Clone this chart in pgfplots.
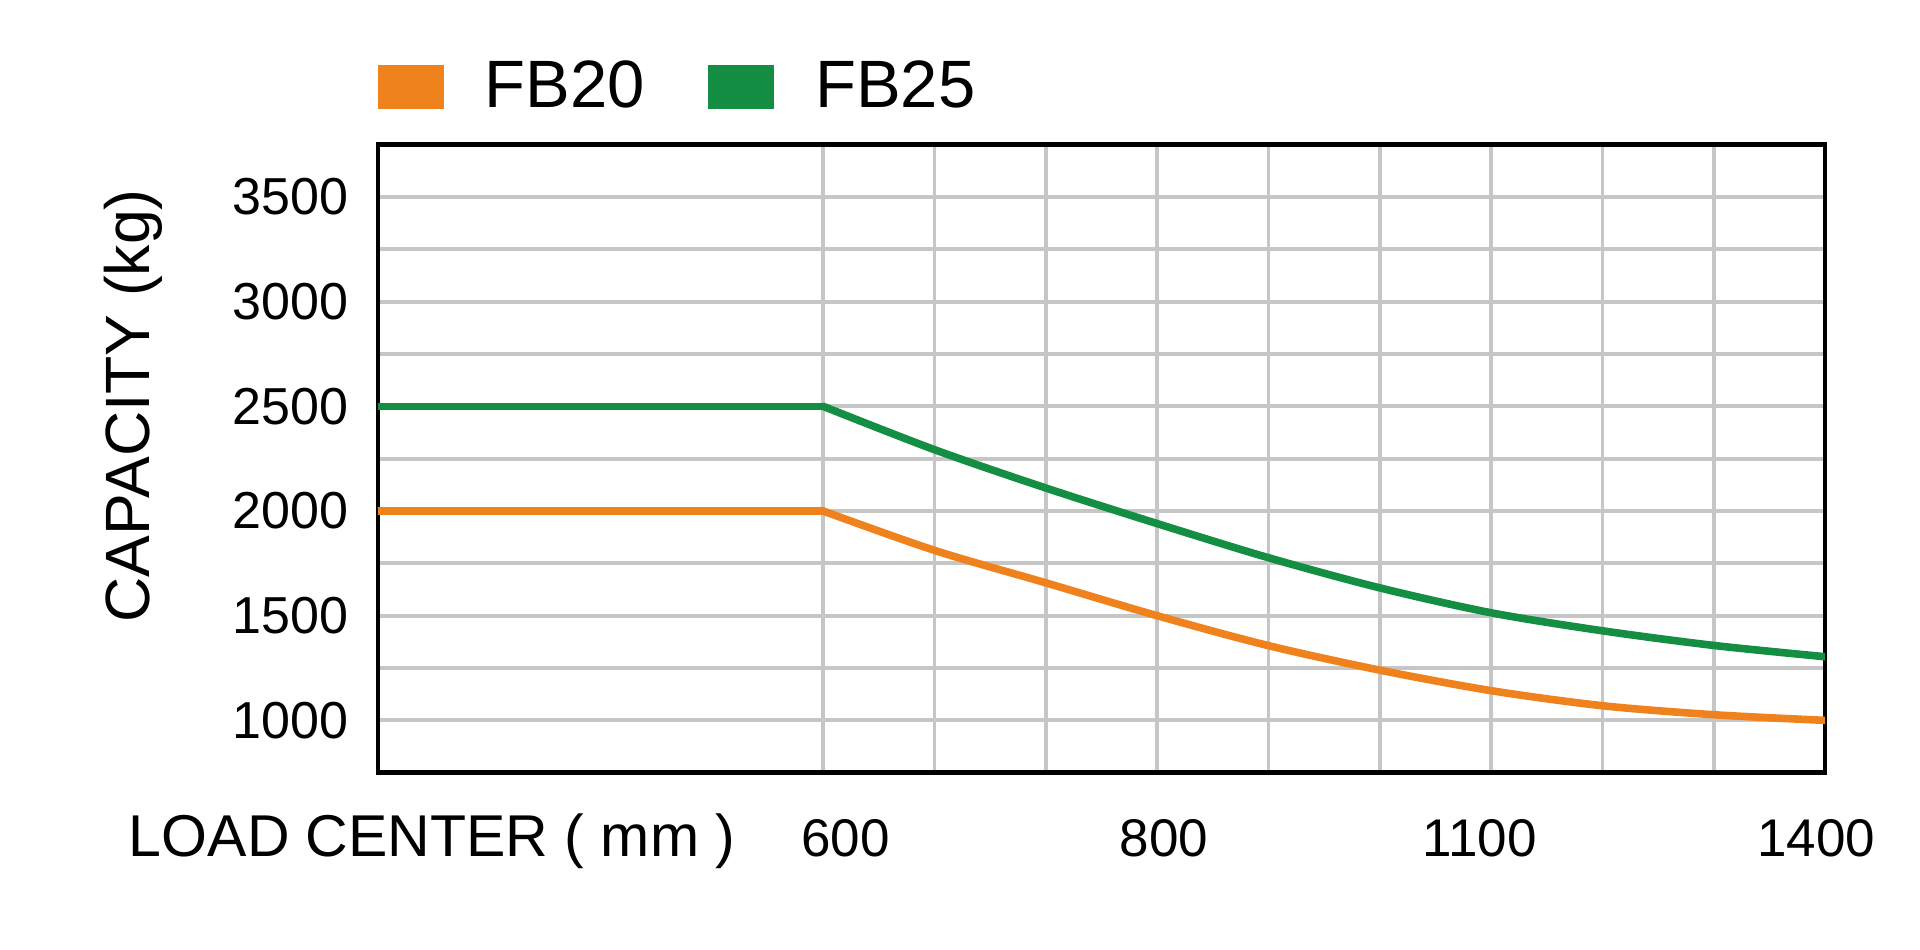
\documentclass[border=0pt]{standalone}
\usepackage{pgfplots}
\pgfplotsset{compat=1.18}
\usepackage{fontspec}
\setmainfont{Liberation Sans}
\usetikzlibrary{calc}
\definecolor{fborange}{HTML}{F0821E}
\definecolor{fbgreen}{HTML}{148E42}
\definecolor{gridgray}{HTML}{C6C6C6}
\begin{document}
\begin{tikzpicture}
\begin{axis}[
  scale only axis,
  width=723.5pt, height=314pt,
  xmin=0, xmax=13, ymin=750, ymax=3750,
  xtick={4.2,7.06,9.9,12.92},
  xticklabels={600,800,1100,1400},
  minor xtick={4,5,6,7,8,9,10,11,12},
  ytick={1000,1500,2000,2500,3000,3500},
  yticklabels={1000,1500,2000,2500,3000,3500},
  minor ytick={1250,1750,2250,2750,3250},
  xmajorgrids=false, xminorgrids=true,
  ymajorgrids=true, yminorgrids=true,
  major grid style={draw=gridgray, line width=1.9pt},
  minor grid style={draw=gridgray, line width=1.9pt},
  major tick length=0pt, minor tick length=0pt,
  axis line style={black, line width=2.3pt},
  /pgf/number format/assume math mode=true,
  yticklabel style={font=\fontsize{26}{30}\selectfont, anchor=east, inner sep=0pt, xshift=-14.5pt},
  xticklabel style={font=\fontsize{26.5}{30}\selectfont, anchor=base, inner sep=0pt, yshift=-42pt},
  xlabel={LOAD CENTER ( mm )},
  ylabel={CAPACITY (kg)},
  every axis x label/.style={at={(axis description cs:0,0)}, xshift=-124.7pt, yshift=-42pt, anchor=base west, inner sep=0pt, font=\fontsize{29.5}{35}\selectfont},
  every axis y label/.style={at={(axis description cs:0,0.584)}, xshift=-114pt, rotate=90, anchor=base, inner sep=0pt, font=\fontsize{31.3}{37}\selectfont},
  legend columns=2,
  legend style={draw=none, fill=none, at={(0,1)}, anchor=south west, yshift=16.85pt,
    font=\fontsize{33.5}{39}\selectfont, inner sep=0pt, outer sep=0pt,
    nodes={inner sep=0pt},
    column sep=0pt,
    /tikz/every odd column/.append style={column sep=20.5pt},
    /tikz/every even column/.append style={column sep=31.5pt}},
  legend image code/.code={\fill[#1, draw=none] (0pt,-11.2pt) rectangle (33pt,10.8pt);},
]
\addplot[color=fborange, line width=3.8pt, line cap=round, forget plot] coordinates {
  (0,2000) (4,2000)
};
\addplot[color=fborange, line width=3.8pt, line cap=round, smooth, tension=0.5] coordinates {
  (4,2000) (5,1812) (6,1657) (7,1500) (8,1357) (9,1240) (10,1142) (11,1070) (12,1027) (13,1000)
};
\addlegendentry{FB20}
\addplot[color=fbgreen, line width=3.8pt, line cap=round, forget plot] coordinates {
  (0,2500) (4,2500)
};
\addplot[color=fbgreen, line width=3.8pt, line cap=round, smooth, tension=0.5] coordinates {
  (4,2500) (5,2293) (6,2110) (7,1940) (8,1777) (9,1633) (10,1514) (11,1428) (12,1358) (13,1304)
};
\addlegendentry{FB25}
\coordinate (SW) at (rel axis cs:0,0);
\coordinate (NE) at (rel axis cs:1,1);
\end{axis}
\pgfresetboundingbox
\path[use as bounding box] ($(SW)+(-189pt,-88.15pt)$) rectangle ($(NE)+(47.5pt,72.35pt)$);
\end{tikzpicture}
\end{document}
